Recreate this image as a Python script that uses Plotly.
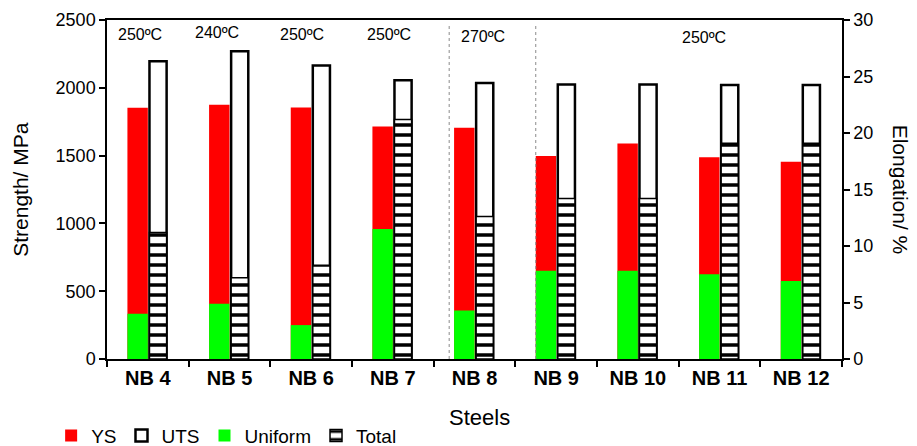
import plotly.graph_objects as go

# Steel grades and their tensile results
steels = ["NB 4", "NB 5", "NB 6", "NB 7", "NB 8", "NB 9", "NB 10", "NB 11", "NB 12"]
ys_mpa = [1853, 1875, 1855, 1715, 1705, 1497, 1590, 1487, 1455]
uts_mpa = [2195, 2270, 2165, 2055, 2035, 2025, 2025, 2020, 2020]
uniform_pct = [4.0, 4.9, 3.0, 11.5, 4.3, 7.8, 7.8, 7.5, 6.9]
total_pct = [11.2, 7.2, 8.3, 21.2, 12.6, 14.2, 14.2, 19.1, 19.1]

# Treatment temperatures written above the groups
temp_labels = ["250ºC", "240ºC", "250ºC", "250ºC", "270ºC", "250ºC"]
temp_x = [-0.10, 0.85, 1.89, 2.95, 4.11, 6.81]
temp_y = [0.956, 0.962, 0.956, 0.956, 0.950, 0.947]

# Dotted separators between temperature groups (category units)
dividers = [3.69, 4.75]

FONT = "Arial, Liberation Sans, sans-serif"

fig = go.Figure()

fig.add_bar(
    x=steels, y=ys_mpa, name="YS", yaxis="y",
    marker=dict(color="#ff0000", line=dict(width=0)),
    offset=-0.25, width=0.25,
)
fig.add_bar(
    x=steels, y=uts_mpa, name="UTS", yaxis="y",
    marker=dict(color="white", line=dict(color="black", width=2.5)),
    offset=0.02, width=0.21,
)
fig.add_bar(
    x=steels, y=uniform_pct, name="Uniform", yaxis="y2",
    marker=dict(color="#00ff00", line=dict(width=0)),
    offset=-0.25, width=0.25,
)
fig.add_bar(
    x=steels, y=total_pct, name="Total", yaxis="y2",
    marker=dict(
        color="black",
        line=dict(color="black", width=1.5),
        pattern=dict(shape="-", fgcolor="black", bgcolor="white", fgopacity=1,
                     size=10, solidity=0.35, fillmode="replace"),
    ),
    offset=0.02, width=0.21,
)

for xd in dividers:
    fig.add_shape(type="line", xref="x", yref="paper", x0=xd, x1=xd, y0=0, y1=0.99,
                  line=dict(color="#8a8a8a", width=1, dash="dot"), layer="above")

annotations = []
for txt, xv, yv in zip(temp_labels, temp_x, temp_y):
    annotations.append(dict(text=txt, x=xv, y=yv, xref="x", yref="paper",
                            xanchor="center", yanchor="middle",
                            showarrow=False, font=dict(family=FONT, size=16, color="black")))

annotations += [
    dict(text="Strength/ MPa", x=-0.118, y=0.5, xref="paper", yref="paper",
         xanchor="center", yanchor="middle",
         textangle=-90, showarrow=False, font=dict(family=FONT, size=21, color="black")),
    dict(text="Elongation/ %", x=1.080, y=0.5, xref="paper", yref="paper",
         xanchor="center", yanchor="middle",
         textangle=90, showarrow=False, font=dict(family=FONT, size=21, color="black")),
    dict(text="Steels", x=0.507, y=-0.174, xref="paper", yref="paper",
         xanchor="center", yanchor="middle",
         showarrow=False, font=dict(family=FONT, size=22, color="black")),
]

fig.update_layout(
    width=917, height=446,
    margin=dict(l=107, r=75, t=20, b=87, autoexpand=False),
    paper_bgcolor="white", plot_bgcolor="white",
    barmode="overlay",
    font=dict(family=FONT, color="black"),
    annotations=annotations,
    showlegend=True,
    legend=dict(orientation="h", x=-0.076, xanchor="left", y=-0.226, yanchor="middle",
                font=dict(family=FONT, size=19, color="black"),
                bgcolor="rgba(0,0,0,0)", traceorder="normal"),
    xaxis=dict(
        type="category", range=[-0.5, 8.5],
        showline=True, linecolor="black", linewidth=1.5, mirror=True,
        ticks="outside", tickson="boundaries", ticklen=6, tickwidth=1.5, tickcolor="black",
        tickfont=dict(family=FONT, size=20, weight="bold", color="black"),
        showgrid=False,
    ),
    yaxis=dict(
        range=[0, 2500], dtick=500, tick0=0,
        showline=True, linecolor="black", linewidth=1.5,
        ticks="outside", ticklen=6, tickwidth=1.5, tickcolor="black",
        tickfont=dict(family=FONT, size=18, color="black"),
        showgrid=False, zeroline=False,
    ),
    yaxis2=dict(
        overlaying="y", side="right",
        range=[0, 30], dtick=5, tick0=0,
        showline=True, linecolor="black", linewidth=1.5,
        ticks="outside", ticklen=6, tickwidth=1.5, tickcolor="black",
        tickfont=dict(family=FONT, size=18, color="black"),
        showgrid=False, zeroline=False,
    ),
)

fig.write_html("out.html")
